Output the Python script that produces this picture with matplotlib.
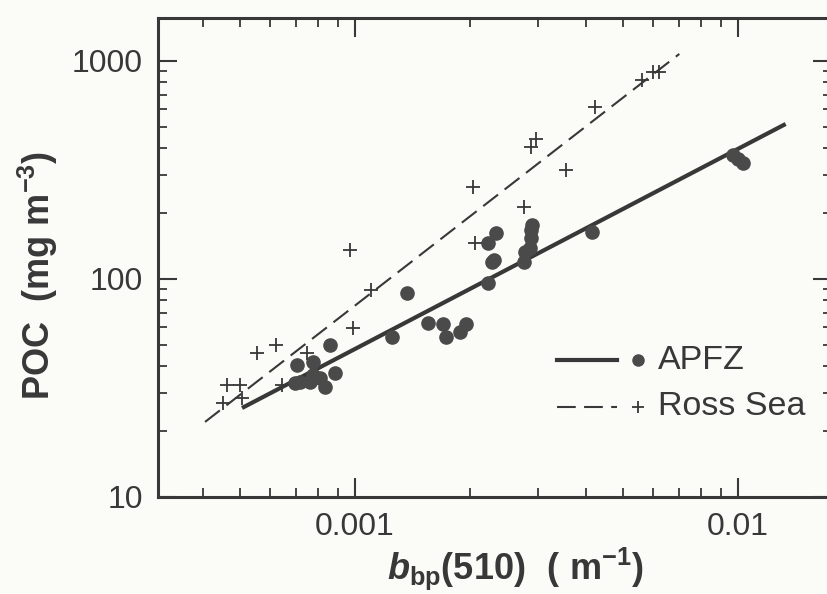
import matplotlib
matplotlib.use("Agg")
import matplotlib.pyplot as plt
from matplotlib.ticker import FixedLocator, FixedFormatter, LogLocator, NullFormatter

plt.rcParams['font.family'] = ['Liberation Sans', 'DejaVu Sans']
plt.rcParams['mathtext.fontset'] = 'custom'
plt.rcParams['mathtext.rm'] = 'Liberation Sans:bold'
plt.rcParams['mathtext.it'] = 'Liberation Sans:italic:bold'
plt.rcParams['mathtext.bf'] = 'Liberation Sans:bold'

# APFZ samples  (bbp in m-1, POC in mg m-3)
apfz_bbp = [0.000697, 0.000706, 0.000718, 0.000763, 0.000777, 0.000777, 0.000811,
            0.000835, 0.000861, 0.000887, 0.00125, 0.00137, 0.00155, 0.00170,
            0.00173, 0.00188, 0.00195, 0.00222, 0.00228, 0.00231, 0.00222, 0.00233,
            0.00276, 0.00278, 0.00286, 0.00288, 0.00288, 0.00290, 0.00416,
            0.0097, 0.0100, 0.0103]
apfz_poc = [33.3, 40.3, 33.6, 33.6, 41.6, 36.3, 35.2,
            32.0, 49.8, 37.1, 54.2, 86.2, 62.8, 62.2,
            54.2, 57.1, 62.2, 95.9, 120, 122, 146, 163,
            120, 133, 139, 154, 168, 177, 164,
            372, 355, 340]

# Ross Sea samples
ross_bbp = [0.000452, 0.000463, 0.000501, 0.000507, 0.000555, 0.000622, 0.000645,
            0.000750, 0.00097, 0.000987, 0.00110, 0.00203, 0.00206, 0.00276,
            0.00288, 0.00297, 0.00355, 0.00423, 0.0056, 0.0060, 0.0062]
ross_poc = [27.0, 32.6, 32.6, 28.4, 45.8, 49.8, 32.6,
            45.8, 136, 59.6, 88.9, 263, 146, 214,
            401, 437, 315, 615, 819, 891, 891]

# regression lines (end points)
apfz_fit_x = [0.000507, 0.0133]
apfz_fit_y = [25.6, 514]
ross_fit_x = [0.000406, 0.00702]
ross_fit_y = [22.1, 1077]

x_ticks = [0.001, 0.01]
x_labels = ["0.001", "0.01"]
y_ticks = [10, 100, 1000]
y_labels = ["10", "100", "1000"]

ink = '#383838'
paper = '#fbfbf7'

fig = plt.figure(figsize=(8.28, 5.94), dpi=100, facecolor=paper)
ax = fig.add_axes([158/828, 1-497/594, (832-158)/828, (497-18)/594], facecolor=paper)
ax.set_xscale('log')
ax.set_yscale('log')

ax.plot(apfz_fit_x, apfz_fit_y, color=ink, lw=3.0, solid_capstyle='butt')
ax.plot(ross_fit_x, ross_fit_y, color=ink, lw=1.5, linestyle=(0, (9, 4)))
ax.plot(apfz_bbp, apfz_poc, 'o', color='#4a4a4a', ms=9.5, mec='#4a4a4a')
ax.plot(ross_bbp, ross_poc, '+', color=ink, ms=10, mew=1.3)

ax.set_xlim(0.000306, 0.01757)
ax.set_ylim(10, 1574)

ax.xaxis.set_major_locator(FixedLocator(x_ticks))
ax.xaxis.set_major_formatter(FixedFormatter(x_labels))
ax.xaxis.set_minor_locator(LogLocator(base=10, subs=range(2, 10)))
ax.xaxis.set_minor_formatter(NullFormatter())
ax.yaxis.set_major_locator(FixedLocator(y_ticks))
ax.yaxis.set_major_formatter(FixedFormatter(y_labels))
ax.yaxis.set_minor_locator(LogLocator(base=10, subs=range(2, 10)))
ax.yaxis.set_minor_formatter(NullFormatter())

ax.tick_params(which='both', direction='in', top=True, right=True, color=ink,
               labelcolor=ink, labelsize=23)
ax.tick_params(which='major', length=14, width=1.5, pad=11)
ax.tick_params(which='minor', length=6.5, width=1.3)
for s in ax.spines.values():
    s.set_linewidth(2.2)
    s.set_color(ink)

ax.set_ylabel(r"POC  (mg m$^{\mathrm{-3}}$)", fontsize=26, fontweight='bold', color=ink)
ax.yaxis.set_label_coords(-0.146, 0.463)
ax.set_xlabel(r"$b_{\mathrm{bp}}\mathrm{(510)\ \ (\ m^{-1})}$", fontsize=26, color=ink)
ax.xaxis.set_label_coords(0.531, -0.1)

# legend drawn by hand
ax.plot([0.592, 0.681], [0.286, 0.286], transform=ax.transAxes, color=ink, lw=3.0)
ax.plot([0.712], [0.286], 'o', transform=ax.transAxes, color='#4a4a4a', ms=8)
ax.text(0.742, 0.286, "APFZ", transform=ax.transAxes, fontsize=24.5, color=ink, va='center')
ax.plot([0.592, 0.681], [0.188, 0.188], transform=ax.transAxes, color=ink, lw=1.5,
        linestyle=(0, (9, 4)))
ax.plot([0.712], [0.188], '+', transform=ax.transAxes, color=ink, ms=9, mew=1.3)
ax.text(0.742, 0.188, "Ross Sea", transform=ax.transAxes, fontsize=24.5, color=ink, va='center')

fig.savefig("out.png", dpi=100, facecolor=paper)
